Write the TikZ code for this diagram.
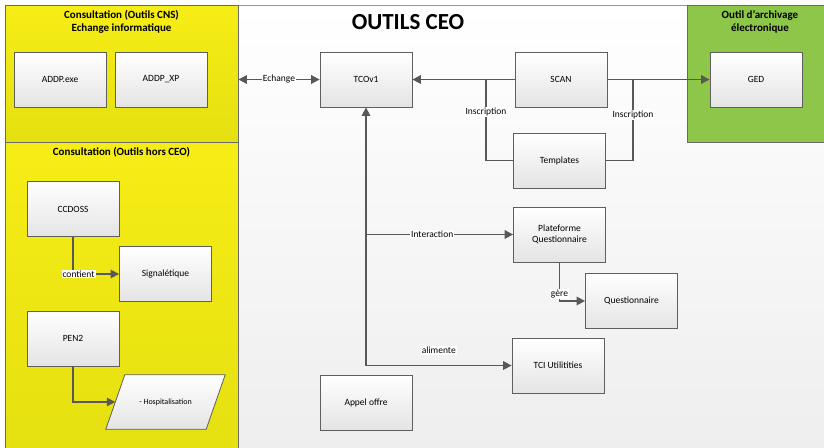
\documentclass[tikz,border=0pt]{standalone}
\usepackage{fontspec}
\setmainfont{Carlito}
\usetikzlibrary{arrows.meta}

\definecolor{boxline}{RGB}{95,95,95}
\definecolor{boxlow}{RGB}{228,228,228}
\definecolor{connline}{RGB}{88,88,88}
\definecolor{panelline}{RGB}{105,105,105}
\definecolor{yeltop}{RGB}{247,237,22}
\definecolor{yelbot}{RGB}{229,224,16}
\definecolor{archgreen}{RGB}{141,198,72}
\definecolor{bglow}{RGB}{238,238,238}

\tikzset{
  boxlook/.style={draw=boxline, line width=0.8pt, top color=white, bottom color=boxlow},
  box/.style={rectangle, boxlook, minimum width=92pt, minimum height=55pt,
    font=\fontsize{9.5}{11}\selectfont, align=center},
  panel/.style={rectangle, draw=panelline, line width=0.8pt, inner sep=0pt},
  paneltitle/.style={font=\bfseries\fontsize{11}{13}\selectfont, align=center},
  conn/.style={draw=connline, line width=1.6pt},
  arr/.style={conn, -{Triangle[length=8.5pt,width=8.5pt]}},
  arrboth/.style={conn, {Triangle[length=8.5pt,width=8.5pt]}-{Triangle[length=8.5pt,width=8.5pt]}},
  lbl/.style={font=\fontsize{9.5}{11}\selectfont, fill=white, inner sep=1pt},
}

\begin{document}
\begin{tikzpicture}[x=1pt, y=-1pt]
  \useasboundingbox (0,0) rectangle (824,447);

  % background of the central area
  \node (main) [panel, draw=panelline!70, top color=white, bottom color=bglow, minimum width=825pt, minimum height=448pt] at (417.5, 229) {};

  % panels
  \node (cns) [panel, top color=yeltop, bottom color=yelbot, minimum width=233pt, minimum height=137pt] at (121.5, 73.5) {};
  \node (hors) [panel, top color=yeltop, bottom color=yelbot, minimum width=233pt, minimum height=312pt] at (121.5, 298) {};
  \node (arch) [panel, fill=archgreen, minimum width=145pt, minimum height=137pt] at (759.5, 73.5) {};

  \node (cnstitle) [paneltitle] at (121.5, 22) {Consultation (Outils CNS)\\Echange informatique};
  \node (horstitle) [paneltitle] at (121.5, 152) {Consultation (Outils hors CEO)};
  \node (archtitle) [paneltitle] at (760, 22) {Outil d’archivage\\électronique};
  \node (ceotitle) [font=\bfseries\fontsize{23}{26}\selectfont] at (408, 22) {OUTILS CEO};

  % boxes
  \node (addpexe) [box] at (60, 79.5) {ADDP.exe};
  \node (addpxp) [box] at (161, 79.5) {ADDP\_XP};
  \node (ccdoss) [box] at (73, 209) {CCDOSS};
  \node (sign) [box] at (165.5, 274) {Signalétique};
  \node (pen) [box] at (73, 338.5) {PEN2};

  % parallelogram
  \node (hosp) [rectangle, minimum width=100pt, minimum height=54pt] at (165.5, 402) {};
  \draw[boxlook] ([xshift=-9.5pt]hosp.south west) -- ([xshift=9.5pt]hosp.north west)
    -- ([xshift=9.5pt]hosp.north east) -- ([xshift=-9.5pt]hosp.south east) -- cycle;
  \node (hosptext) [font=\fontsize{8}{9}\selectfont] at (hosp) {- Hospitalisation};

  \node (tco) [box] at (366, 79.5) {TCOv1};
  \node (scan) [box] at (561, 79.5) {SCAN};
  \node (tpl) [box] at (559.5, 160.5) {Templates};
  \node (ged) [box] at (756, 79.5) {GED};
  \node (plat) [box] at (559.5, 234.5) {Plateforme\\Questionnaire};
  \node (quest) [box] at (631.5, 301) {Questionnaire};
  \node (tci) [box] at (558, 365.5) {TCI Utilitities};
  \node (appel) [box] at (366, 402.5) {Appel offre};

  \coordinate (jl) at (486, 79.5);
  \coordinate (jr) at (633, 79.5);
  \coordinate (jm) at (366, 234.5);
  \coordinate (jb) at (366, 365.5);

  % connectors
  \draw[arrboth] (cns.east |- tco.west) -- (tco.west) node[lbl, midway] {Echange};
  \draw[arr] (scan) -- (tco);
  \draw[arr] (scan) -- (ged);
  \draw[conn] (jl) |- (tpl) node[lbl, pos=0.2] {Inscription};
  \draw[conn] (jr) |- (tpl) node[lbl, pos=0.22] {Inscription};
  \draw[arr] (jb) -- (tco.south);
  \draw[arr] (jm) -- (plat) node[lbl, pos=0.45] {Interaction};
  \draw[arr] (jb) -- (tci) node[lbl, midway, above=10pt] {alimente};
  \draw[arr] (plat.south) |- (quest) node[lbl, pos=0.5, anchor=south, yshift=1pt] {gère};
  \draw[arr] (ccdoss.south) |- (sign) node[lbl, pos=0.56] {contient};
  \draw[arr] (pen.south) |- (hosp);
\end{tikzpicture}
\end{document}
